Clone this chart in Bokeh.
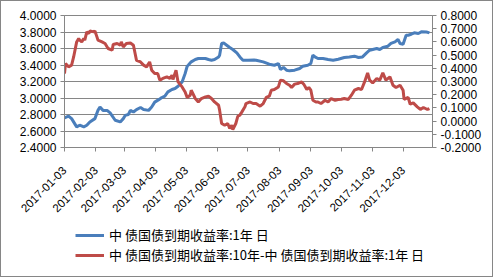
import math
import pandas as pd
from bokeh.plotting import figure
from bokeh.layouts import column
from bokeh.models import (Range1d, LinearAxis, FixedTicker, NumeralTickFormatter,
                          DatetimeTickFormatter, Legend, LegendItem)
from bokeh.embed import file_html
from bokeh.resources import INLINE

# ---------------- data ----------------
blue_label = "中 债国债到期收益率:1年 日"
red_label = "中 债国债到期收益率:10年-中 债国债到期收益率:1年 日"

blue_dates = [
    "2017-01-03", "2017-01-07", "2017-01-10", "2017-01-15", "2017-01-18", "2017-01-22",
    "2017-01-25", "2017-01-28", "2017-02-02", "2017-02-05", "2017-02-07", "2017-02-10",
    "2017-02-14", "2017-02-17", "2017-02-22", "2017-02-27", "2017-03-02", "2017-03-04",
    "2017-03-07", "2017-03-09", "2017-03-12", "2017-03-15", "2017-03-19", "2017-03-22",
    "2017-03-27", "2017-03-30", "2017-04-02", "2017-04-06", "2017-04-09", "2017-04-12",
    "2017-04-15", "2017-04-19", "2017-04-22", "2017-04-25", "2017-04-29", "2017-05-02",
    "2017-05-04", "2017-05-05", "2017-05-08", "2017-05-12", "2017-05-15", "2017-05-18",
    "2017-05-22", "2017-05-25", "2017-05-28", "2017-05-31", "2017-06-04", "2017-06-05",
    "2017-06-07", "2017-06-09", "2017-06-12", "2017-06-15", "2017-06-18", "2017-06-22",
    "2017-06-25", "2017-06-28", "2017-07-03", "2017-07-09", "2017-07-11", "2017-07-18",
    "2017-07-24", "2017-07-29", "2017-08-02", "2017-08-04", "2017-08-07", "2017-08-10",
    "2017-08-13", "2017-08-18", "2017-08-23", "2017-08-26", "2017-08-31", "2017-09-03",
    "2017-09-05", "2017-09-07", "2017-09-10", "2017-09-15", "2017-09-20", "2017-09-25",
    "2017-09-30", "2017-10-06", "2017-10-11", "2017-10-16", "2017-10-20", "2017-10-24",
    "2017-10-28", "2017-10-31", "2017-11-03", "2017-11-07", "2017-11-10", "2017-11-13",
    "2017-11-18", "2017-11-21", "2017-11-25", "2017-11-28", "2017-11-30", "2017-12-03",
    "2017-12-06", "2017-12-08", "2017-12-11", "2017-12-14", "2017-12-18", "2017-12-21",
    "2017-12-26", "2017-12-29",
]
blue_vals = [
    2.76, 2.78, 2.75, 2.65, 2.67, 2.65,
    2.67, 2.71, 2.75, 2.85, 2.89, 2.85,
    2.85, 2.82, 2.73, 2.71, 2.75, 2.79,
    2.80, 2.85, 2.83, 2.86, 2.885, 2.86,
    2.85, 2.89, 2.95, 2.98, 3.006, 3.022,
    3.074, 3.103, 3.115, 3.143, 3.195, 3.297,
    3.385, 3.397, 3.438, 3.467, 3.479, 3.479,
    3.479, 3.467, 3.458, 3.467, 3.498, 3.519,
    3.661, 3.668, 3.640, 3.612, 3.588, 3.547,
    3.498, 3.458, 3.458, 3.460, 3.458, 3.438,
    3.410, 3.397, 3.418, 3.345, 3.370, 3.337,
    3.329, 3.337, 3.358, 3.385, 3.397, 3.418,
    3.519, 3.498, 3.479, 3.479, 3.467, 3.458,
    3.470, 3.491, 3.498, 3.507, 3.491, 3.498,
    3.547, 3.579, 3.588, 3.600, 3.588, 3.612,
    3.628, 3.661, 3.680, 3.709, 3.661, 3.652,
    3.761, 3.761, 3.773, 3.790, 3.782, 3.802,
    3.800, 3.790,
]

red_dates = [
    "2017-01-03", "2017-01-04", "2017-01-07", "2017-01-10", "2017-01-12", "2017-01-13",
    "2017-01-15", "2017-01-17", "2017-01-18", "2017-01-20", "2017-01-22", "2017-01-23",
    "2017-01-25", "2017-01-27", "2017-01-28", "2017-02-01", "2017-02-02", "2017-02-04",
    "2017-02-05", "2017-02-09", "2017-02-12", "2017-02-15", "2017-02-19", "2017-02-20",
    "2017-02-24", "2017-02-27", "2017-02-28", "2017-03-02", "2017-03-05", "2017-03-09",
    "2017-03-12", "2017-03-15", "2017-03-19", "2017-03-22", "2017-03-25", "2017-03-27",
    "2017-03-28", "2017-03-30", "2017-04-02", "2017-04-05", "2017-04-07", "2017-04-10",
    "2017-04-14", "2017-04-17", "2017-04-19", "2017-04-20", "2017-04-23", "2017-04-25",
    "2017-04-29", "2017-05-02", "2017-05-04", "2017-05-07", "2017-05-08", "2017-05-12",
    "2017-05-15", "2017-05-18", "2017-05-22", "2017-05-25", "2017-05-28", "2017-05-31",
    "2017-06-04", "2017-06-05", "2017-06-07", "2017-06-10", "2017-06-13", "2017-06-15",
    "2017-06-17", "2017-06-18", "2017-06-21", "2017-06-23", "2017-06-25", "2017-06-27",
    "2017-06-30", "2017-07-01", "2017-07-05", "2017-07-08", "2017-07-11", "2017-07-15",
    "2017-07-18", "2017-07-21", "2017-07-24", "2017-07-26", "2017-07-29", "2017-08-02",
    "2017-08-04", "2017-08-07", "2017-08-10", "2017-08-13", "2017-08-15", "2017-08-18",
    "2017-08-21", "2017-08-25", "2017-08-27", "2017-08-30", "2017-09-01", "2017-09-03",
    "2017-09-05", "2017-09-08", "2017-09-10", "2017-09-13", "2017-09-17", "2017-09-20",
    "2017-09-23", "2017-09-27", "2017-09-30", "2017-10-03", "2017-10-06", "2017-10-10",
    "2017-10-13", "2017-10-16", "2017-10-20", "2017-10-23", "2017-10-26", "2017-10-29",
    "2017-10-31", "2017-11-03", "2017-11-07", "2017-11-10", "2017-11-13", "2017-11-16",
    "2017-11-20", "2017-11-23", "2017-11-26", "2017-11-30", "2017-12-03", "2017-12-04",
    "2017-12-08", "2017-12-10", "2017-12-13", "2017-12-17", "2017-12-20", "2017-12-23",
    "2017-12-27", "2017-12-29",
]
red_vals = [
    0.360, 0.436, 0.411, 0.424, 0.486, 0.524,
    0.600, 0.626, 0.613, 0.600, 0.626, 0.613,
    0.676, 0.664, 0.683, 0.676, 0.683, 0.638,
    0.613, 0.600, 0.588, 0.550, 0.537, 0.580,
    0.588, 0.575, 0.600, 0.562, 0.588, 0.592,
    0.575, 0.461, 0.448, 0.424, 0.411, 0.436,
    0.448, 0.386, 0.361, 0.360, 0.310, 0.323,
    0.335, 0.323, 0.348, 0.315, 0.386, 0.297,
    0.259, 0.221, 0.179, 0.196, 0.234, 0.171,
    0.145, 0.171, 0.183, 0.189, 0.171, 0.145,
    0.120, 0.083, -0.018, -0.031, -0.018, -0.056,
    -0.031, -0.064, -0.018, 0.037, 0.045, 0.070,
    0.108, 0.133, 0.145, 0.133, 0.133, 0.113,
    0.133, 0.179, 0.189, 0.234, 0.239, 0.259,
    0.310, 0.305, 0.285, 0.272, 0.255, 0.280,
    0.285, 0.297, 0.280, 0.239, 0.255, 0.234,
    0.158, 0.145, 0.145, 0.133, 0.158, 0.145,
    0.171, 0.158, 0.163, 0.166, 0.171, 0.164,
    0.196, 0.234, 0.247, 0.239, 0.297, 0.365,
    0.310, 0.289, 0.323, 0.310, 0.365, 0.310,
    0.335, 0.272, 0.255, 0.272, 0.234, 0.164,
    0.179, 0.128, 0.138, 0.108, 0.088, 0.103,
    0.088, 0.095,
]

x_tick_dates = ["2017-%02d-03" % m for m in range(1, 13)]
left_ticks = [2.4, 2.6, 2.8, 3.0, 3.2, 3.4, 3.6, 3.8, 4.0]
right_ticks = [-0.2, -0.1, 0.0, 0.1, 0.2, 0.3, 0.4, 0.5, 0.6, 0.7, 0.8]

# ---------------- figure ----------------
BLUE = "#4A7EBB"
RED = "#BE4B48"
GRID = "#868686"
FONT = "Liberation Sans"

x_start = pd.Timestamp("2017-01-03")
x_end = pd.Timestamp("2018-01-01")

bd = pd.to_datetime(blue_dates)
rd = pd.to_datetime(red_dates)

p = figure(width=491, height=221, x_axis_type="datetime",
           output_backend="svg", toolbar_location=None,
           x_range=Range1d(x_start, x_end), y_range=Range1d(2.4, 4.0),
           min_border_left=63, min_border_right=60,
           min_border_top=14, min_border_bottom=75)
p.extra_y_ranges = {"right": Range1d(-0.2, 0.8)}

p.outline_line_color = GRID
p.background_fill_color = "white"
p.border_fill_color = "white"

# x axis
xt = [pd.Timestamp(d).value / 1e6 for d in x_tick_dates]
xa = p.xaxis[0]
xa.ticker = FixedTicker(ticks=xt)
fmt = "%Y-%m-%d"
xa.formatter = DatetimeTickFormatter(milliseconds=fmt, seconds=fmt, minsec=fmt, minutes=fmt,
                                     hourmin=fmt, hours=fmt, days=fmt, months=fmt, years=fmt)
xa.major_label_orientation = math.pi / 4

# left axis
ya = p.yaxis[0]
ya.ticker = FixedTicker(ticks=left_ticks)
ya.formatter = NumeralTickFormatter(format="0.0000")

# right axis
ra = LinearAxis(y_range_name="right", ticker=FixedTicker(ticks=right_ticks),
                formatter=NumeralTickFormatter(format="0.0000"))
p.add_layout(ra, "right")

for ax in [xa, ya, ra]:
    ax.axis_line_color = GRID
    ax.major_tick_line_color = GRID
    ax.major_tick_out = 4
    ax.major_tick_in = 0
    ax.minor_tick_line_color = None
    ax.major_label_text_font = FONT
    ax.major_label_text_font_size = "12px"
    ax.major_label_text_color = "#000000"
    ax.major_label_standoff = 4
xa.major_label_text_font_size = "11.5px"
xa.major_label_standoff = 17

p.xgrid.visible = False
p.ygrid.ticker = FixedTicker(ticks=left_ticks)
p.ygrid.grid_line_color = GRID
p.ygrid.grid_line_width = 1

p.line(x=bd, y=blue_vals, line_color=BLUE, line_width=3)
p.line(x=rd, y=red_vals, line_color=RED, line_width=3, y_range_name="right")

# ---------------- legend strip ----------------
pl = figure(width=491, height=54, output_backend="svg", toolbar_location=None,
            x_range=Range1d(0, 1), y_range=Range1d(0, 1),
            x_axis_location=None, y_axis_location=None, min_border=0)
pl.grid.visible = False
pl.outline_line_color = None
pl.border_fill_color = "white"
pl.background_fill_color = "white"
# same series, kept out of this strip's view; only their legend keys show
k1 = pl.line(x=bd, y=blue_vals, line_color=BLUE, line_width=3)
k2 = pl.line(x=rd, y=red_vals, line_color=RED, line_width=3)
legend = Legend(items=[LegendItem(label=blue_label, renderers=[k1]),
                       LegendItem(label=red_label, renderers=[k2])],
                location=(11, 12), orientation="vertical",
                glyph_width=29, glyph_height=14, label_height=14, label_width=10,
                spacing=1, padding=0, margin=0, label_standoff=5,
                border_line_color=None, background_fill_alpha=0,
                label_text_font="Noto Sans CJK SC", label_text_font_size="13px",
                label_text_color="#000000")
pl.add_layout(legend)

inner = column(p, pl, spacing=0, margin=(1, 1, 1, 1),
               styles={"background-color": "white"})
layout = column(inner, spacing=0, styles={"background-color": "#868686"})

open("out.html", "w").write(file_html(layout, INLINE))
